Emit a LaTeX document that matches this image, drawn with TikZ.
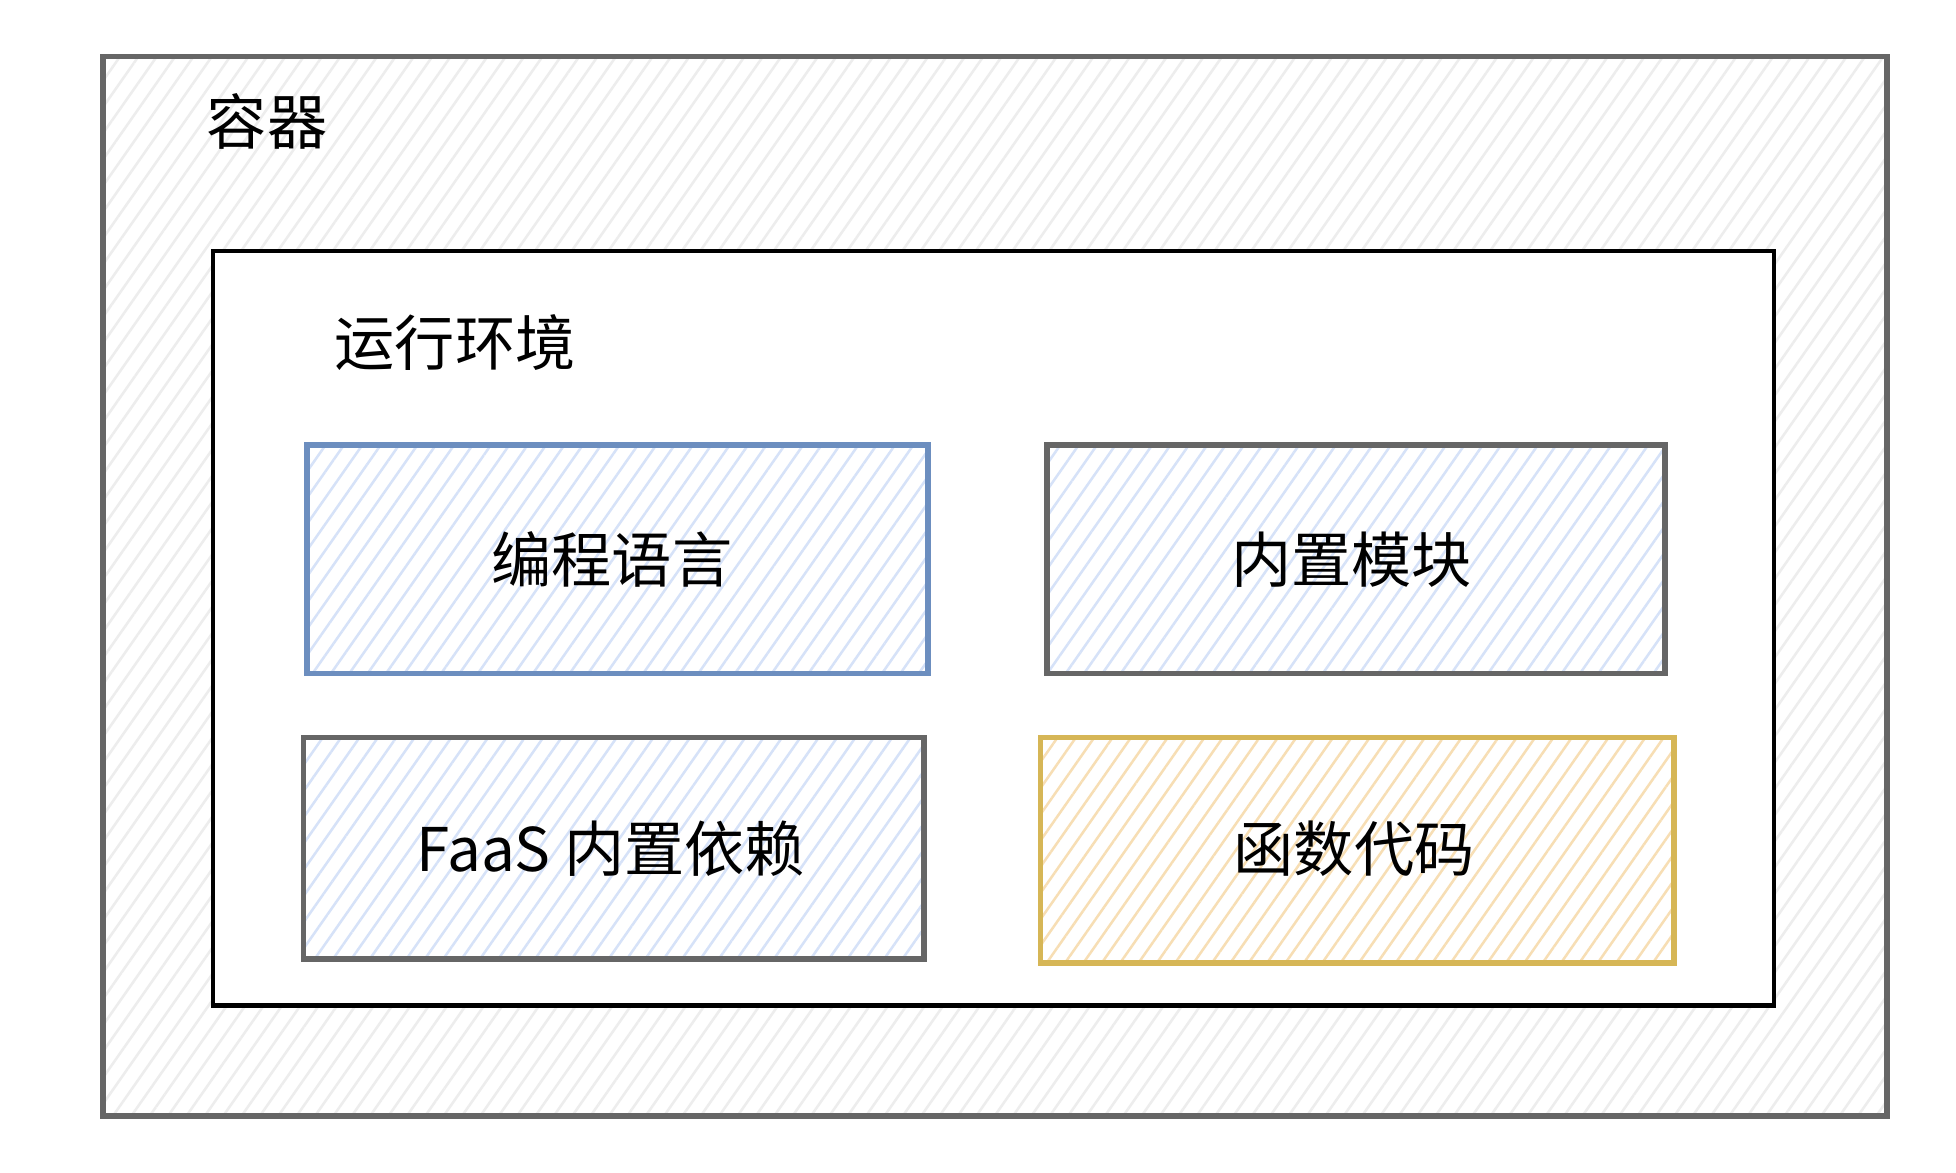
\documentclass[tikz,border=0pt]{standalone}
\usepackage{fontspec}
\setmainfont{Noto Sans CJK SC}
\usetikzlibrary{patterns.meta}
\definecolor{hblue}{RGB}{214,226,248}
\definecolor{sblue}{RGB}{108,142,191}
\definecolor{horange}{RGB}{247,222,180}
\definecolor{sgold}{RGB}{214,182,86}
\begin{document}
\begin{tikzpicture}[x=0.5pt,y=-0.5pt,
  hatch/.style={pattern={Lines[angle=55,distance=6pt,line width=1pt]},pattern color=#1},
  lbl/.style={font=\fontsize{24}{28}\selectfont},
  box/.style={line width=2.2pt}]
\useasboundingbox (0,0) rectangle (1560,935);
\fill[white] (0,0) rectangle (1560,935);
\path[hatch=black!7] (82,45) rectangle (1505,890);
\draw[box,draw=black!60] (82,45) rectangle (1505,890);
\node[lbl,anchor=center] (c) at (213,97) {容器};
\filldraw[fill=white,draw=black,line width=1.8pt] (170,200) rectangle (1415,802);
\node[lbl] (r) at (363,273) {运行环境};
\path[hatch=hblue] (245,355) rectangle (740,537);
\draw[box,draw=sblue] (245,355) rectangle (740,537);
\node[lbl] (a) at (488,446) {编程语言};
\path[hatch=hblue] (835,355) rectangle (1328,537);
\draw[box,draw=black!60] (835,355) rectangle (1328,537);
\node[lbl] (b) at (1078,446) {内置模块};
\path[hatch=hblue] (242,588) rectangle (737,765);
\draw[box,draw=black!60] (242,588) rectangle (737,765);
\node[lbl] (d) at (487,677) {FaaS 内置依赖};
\path[hatch=horange] (830,588) rectangle (1335,768);
\draw[box,draw=sgold] (830,588) rectangle (1335,768);
\node[lbl] (e) at (1080,677) {函数代码};
\end{tikzpicture}
\end{document}
